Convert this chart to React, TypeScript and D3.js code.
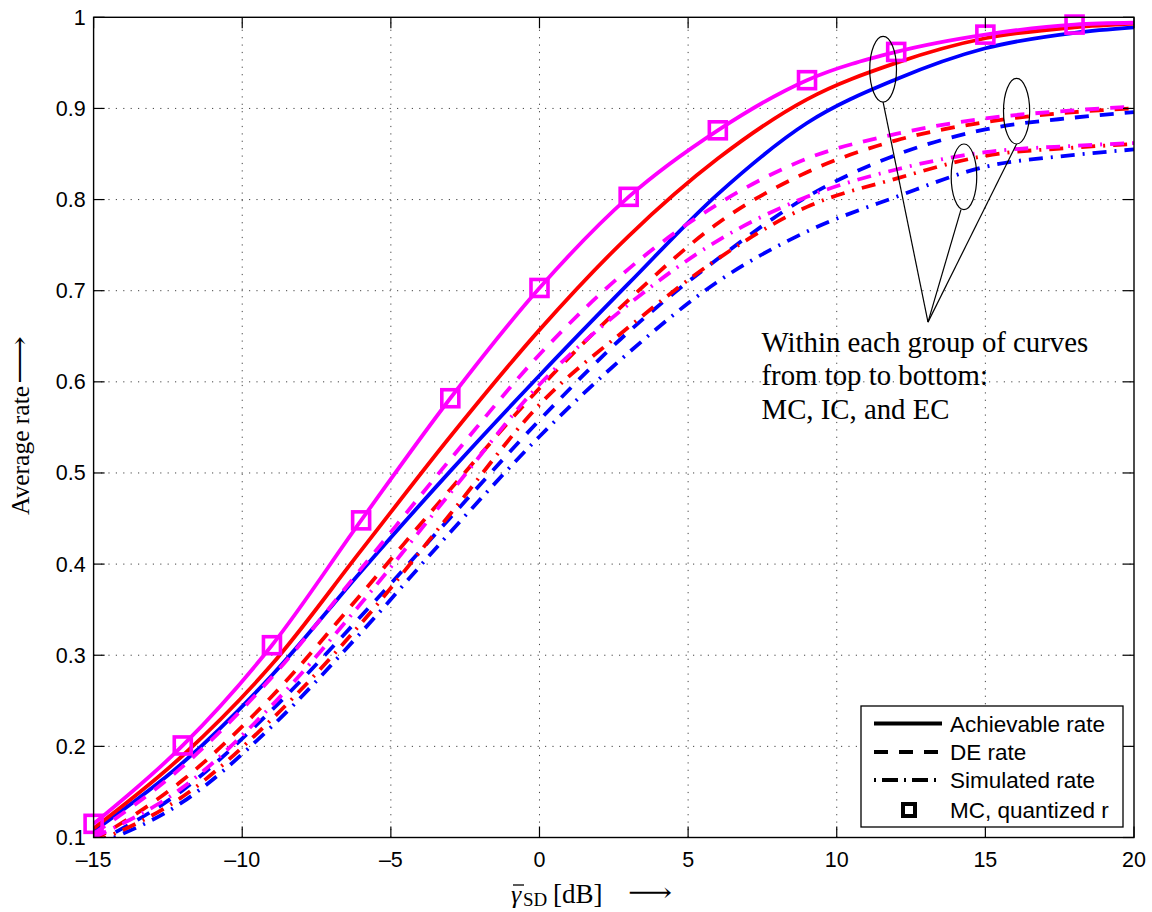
import React from "react";
import * as d3 from "d3";

// ---------- data ----------
const snrDb = [-15, -12, -9, -6, -3, 0, 3, 6, 9, 12, 15, 18, 20];
const mcAchievable = [0.115, 0.201, 0.311, 0.448, 0.582, 0.703, 0.803, 0.876, 0.931, 0.962, 0.981, 0.992, 0.994];
const icAchievable = [0.110, 0.190, 0.290, 0.415, 0.540, 0.657, 0.760, 0.845, 0.910, 0.950, 0.977, 0.989, 0.993];
const ecAchievable = [0.107, 0.182, 0.278, 0.392, 0.502, 0.607, 0.708, 0.806, 0.884, 0.932, 0.966, 0.983, 0.989];
const mcDE = [0.104, 0.178, 0.276, 0.395, 0.515, 0.630, 0.724, 0.795, 0.845, 0.872, 0.889, 0.898, 0.902];
const icDE = [0.097, 0.163, 0.255, 0.367, 0.482, 0.593, 0.690, 0.774, 0.830, 0.865, 0.885, 0.896, 0.900];
const ecDE = [0.093, 0.152, 0.240, 0.343, 0.451, 0.558, 0.655, 0.735, 0.803, 0.849, 0.877, 0.890, 0.896];
const mcSim = [0.100, 0.155, 0.245, 0.357, 0.478, 0.597, 0.685, 0.755, 0.803, 0.833, 0.852, 0.859, 0.862];
const icSim = [0.094, 0.145, 0.230, 0.335, 0.455, 0.575, 0.660, 0.735, 0.792, 0.823, 0.848, 0.857, 0.861];
const ecSim = [0.091, 0.139, 0.222, 0.325, 0.435, 0.540, 0.632, 0.710, 0.765, 0.803, 0.836, 0.849, 0.855];
const markerDb = [-15, -12, -9, -6, -3, 0, 3, 6, 9, 12, 15, 18];

const xTicks = [-15, -10, -5, 0, 5, 10, 15, 20];
const xTickLabels = ["\u201315", "\u201310", "\u20135", "0", "5", "10", "15", "20"];
const yTicks = [0.1, 0.2, 0.3, 0.4, 0.5, 0.6, 0.7, 0.8, 0.9, 1];
const yTickLabels = ["0.1", "0.2", "0.3", "0.4", "0.5", "0.6", "0.7", "0.8", "0.9", "1"];

const legendLabels = ["Achievable rate", "DE rate", "Simulated rate", "MC, quantized r"];
const noteLines = ["Within each group of curves", "from top to bottom:", "MC, IC, and EC"];
// ellipse annotations in data units: [x, y, halfWidthDb, halfHeightRate]
const ellipses = [
  [11.56, 0.943, 0.45, 0.036],
  [16.05, 0.897, 0.44, 0.036],
  [14.28, 0.825, 0.43, 0.036],
];
const pointerTarget = [13.07, 0.6655];
const noteAnchor = [7.47, 0.633];

// ---------- layout ----------
const W = 1152, H = 912;
const L = 93.6, R = 1134, T = 17.3, B = 837.5;

const COLORS = { mc: "#ff00ff", ic: "#ff0000", ec: "#0000ff" };
const DASH = "14,11";
const DASHDOT = "14,8,2,8";

export default function App() {
  const x = d3.scaleLinear().domain([-15, 20]).range([L, R]);
  const y = d3.scaleLinear().domain([0.1, 1]).range([B, T]);
  const line = d3
    .line<number>()
    .x((_, i) => x(snrDb[i]))
    .y((v) => y(v))
    .curve(d3.curveMonotoneX);

  const series = [
    { vals: ecAchievable, c: COLORS.ec, dash: undefined },
    { vals: ecDE, c: COLORS.ec, dash: DASH },
    { vals: ecSim, c: COLORS.ec, dash: DASHDOT },
    { vals: icAchievable, c: COLORS.ic, dash: undefined },
    { vals: icDE, c: COLORS.ic, dash: DASH },
    { vals: icSim, c: COLORS.ic, dash: DASHDOT },
    { vals: mcAchievable, c: COLORS.mc, dash: undefined },
    { vals: mcDE, c: COLORS.mc, dash: DASH },
    { vals: mcSim, c: COLORS.mc, dash: DASHDOT },
  ];

  const sans = "'Liberation Sans', Arial, Helvetica, sans-serif";
  const serif = "'Liberation Serif', 'Times New Roman', 'DejaVu Serif', serif";
  const tickLen = 11;
  const ms = 17;
  const lw = 3.8;

  const legX0 = 861, legY0 = 706, legW = 262, legH = 121;
  const legRowsY = [723.5, 752, 780, 810];

  const px = x(pointerTarget[0]);
  const py = y(pointerTarget[1]);

  return (
    <svg width={W} height={H} style={{ position: "absolute", left: 0, top: 0, background: "#fff" }}>
      <defs>
        <clipPath id="plotclip">
          <rect x={L} y={T} width={R - L} height={B - T} />
        </clipPath>
      </defs>
      <rect x={0} y={0} width={W} height={H} fill="#fff" />
      {/* grid */}
      <g stroke="#444" strokeWidth={1} strokeDasharray="1.2,6.2">
        {xTicks.slice(1, -1).map((t) => (
          <line key={"gx" + t} x1={x(t)} x2={x(t)} y1={B} y2={T} />
        ))}
        {yTicks.slice(1, -1).map((t) => (
          <line key={"gy" + t} x1={L} x2={R} y1={y(t)} y2={y(t)} />
        ))}
      </g>
      {/* curves */}
      <g clipPath="url(#plotclip)" fill="none">
        {series.map((s, i) => (
          <path
            key={i}
            d={line(s.vals) || ""}
            stroke={s.c}
            strokeWidth={lw}
            strokeDasharray={s.dash}
          />
        ))}
      </g>
      <g fill="none">
        {markerDb.map((m) => {
          const i = snrDb.indexOf(m);
          return (
            <rect
              key={"m" + m}
              x={x(m) - ms / 2}
              y={y(mcAchievable[i]) - ms / 2}
              width={ms}
              height={ms}
              stroke={COLORS.mc}
              strokeWidth={3.6}
              fill="none"
            />
          );
        })}
      </g>
      {/* annotations */}
      <g stroke="#000" strokeWidth={1.2} fill="none">
        {ellipses.map((e, i) => {
          const cx = x(e[0]);
          const cy = y(e[1]);
          const rx = x(e[0] + e[2]) - cx;
          const ry = cy - y(e[1] + e[3]);
          return (
            <g key={"e" + i}>
              <ellipse cx={cx} cy={cy} rx={rx} ry={ry} />
              <line x1={cx + (i === 2 ? -3 : 0)} y1={cy + ry} x2={px} y2={py} />
            </g>
          );
        })}
      </g>
      <g fontFamily={serif} fontSize={28.8} fill="#000">
        {noteLines.map((t, i) => (
          <text key={t} x={x(noteAnchor[0])} y={y(noteAnchor[1]) + i * 33.5}>
            {t}
          </text>
        ))}
      </g>
      {/* axes box */}
      <rect x={L} y={T} width={R - L} height={B - T} fill="none" stroke="#000" strokeWidth={1.4} />
      {/* ticks */}
      <g stroke="#000" strokeWidth={1.2}>
        {xTicks.map((t) => (
          <g key={"xt" + t}>
            <line x1={x(t)} x2={x(t)} y1={B} y2={B - tickLen} />
            <line x1={x(t)} x2={x(t)} y1={T} y2={T + tickLen} />
          </g>
        ))}
        {yTicks.map((t) => (
          <g key={"yt" + t}>
            <line x1={L} x2={L + tickLen} y1={y(t)} y2={y(t)} />
            <line x1={R} x2={R - tickLen} y1={y(t)} y2={y(t)} />
          </g>
        ))}
      </g>
      <g fontFamily={sans} fontSize={21.5} fill="#000">
        {xTicks.map((t, i) => (
          <text key={"xl" + t} x={x(t)} y={B + 29} textAnchor="middle">
            {xTickLabels[i]}
          </text>
        ))}
        {yTicks.map((t, i) => (
          <text key={"yl" + t} x={L - 8} y={y(t) + 7.5} textAnchor="end">
            {yTickLabels[i]}
          </text>
        ))}
      </g>
      {/* x axis label */}
      <g fontFamily={serif} fill="#000">
        <line x1={513} x2={524} y1={885} y2={885} stroke="#000" strokeWidth={1.3} />
        <text x={511} y={903} fontSize={26} fontStyle="italic">{"\u03B3"}</text>
        <text x={523} y={906} fontSize={19}>SD</text>
        <text x={553} y={903} fontSize={27}>[dB]</text>
        <text x={628} y={901} fontSize={26} textLength={44} lengthAdjust="spacingAndGlyphs">{"\u27F6"}</text>
      </g>
      {/* y axis label */}
      <g fontFamily={serif} fill="#000" transform="translate(29,0) rotate(-90)">
        <text x={-515} y={0} fontSize={25.5}>Average rate</text>
        <text x={-384} y={-1} fontSize={25.5} textLength={48} lengthAdjust="spacingAndGlyphs">{"\u27F6"}</text>
      </g>
      {/* legend */}
      <rect x={legX0} y={legY0} width={legW} height={legH} fill="#fff" stroke="#000" strokeWidth={1.3} />
      <g stroke="#000" strokeWidth={4}>
        <line x1={874} x2={942} y1={legRowsY[0]} y2={legRowsY[0]} />
        <line x1={874} x2={942} y1={legRowsY[1]} y2={legRowsY[1]} strokeDasharray={DASH} />
        <line x1={874} x2={942} y1={legRowsY[2]} y2={legRowsY[2]} strokeDasharray={"2,6,16,6"} />
        <rect x={909 - 6} y={legRowsY[3] - 6} width={12} height={12} fill="none" />
      </g>
      <g fontFamily={sans} fontSize={22.5} fill="#000">
        {legendLabels.map((t, i) => (
          <text key={t} x={950} y={legRowsY[i] + 8}>
            {t}
          </text>
        ))}
      </g>
    </svg>
  );
}
